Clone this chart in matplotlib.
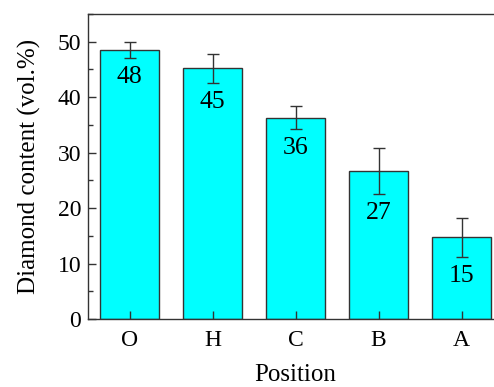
import matplotlib.pyplot as plt
from matplotlib.ticker import MultipleLocator

positions = ["O", "H", "C", "B", "A"]  # Category labels
content = [48.5, 45.2, 36.3, 26.7, 14.7]  # Diamond content (vol.%)
errors = [1.4, 2.6, 2.05, 4.2, 3.55]  # Error bar half-heights
labels = ["48", "45", "36", "27", "15"]  # Text shown inside bars

plt.rcParams["font.family"] = ["Liberation Serif", "DejaVu Serif"]

fig = plt.figure(figsize=(4.94, 3.87), dpi=100)
ax = fig.add_axes([88 / 494, 1 - 319 / 387, 415 / 494, 305 / 387])

x = range(len(positions))
ax.bar(x, content, width=0.7, color="#00FFFF", edgecolor="#333333", linewidth=1.0)
ax.errorbar(x, content, yerr=errors, fmt="none", ecolor="#333333", elinewidth=1.0,
            capsize=4.5, capthick=1.0)

for i in x:  # Labels sit just below each error bar
    ax.text(i, content[i] - errors[i] - 3.4, labels[i], ha="center", va="center",
            fontsize=18.5)

ax.set_xlim(-0.5, 4.5)
ax.set_ylim(0, 55)
ax.set_xticks(list(x))
ax.set_xticklabels(positions)
ax.yaxis.set_major_locator(MultipleLocator(10))
ax.yaxis.set_minor_locator(MultipleLocator(5))
ax.tick_params(axis="both", which="major", direction="in", length=6, width=1,
               color="#333333", labelsize=17, pad=5)
ax.tick_params(axis="x", which="major", pad=8)
ax.tick_params(axis="y", which="minor", direction="in", length=3.5, width=1,
               color="#333333")
ax.tick_params(axis="x", which="minor", bottom=False)

for s in ax.spines.values():
    s.set_color("#333333")
    s.set_linewidth(1.0)

ax.set_xlabel("Position", fontsize=18, labelpad=9)
ax.set_ylabel("Diamond content (vol.%)", fontsize=18, labelpad=12)

fig.savefig("out.png", dpi=100)
